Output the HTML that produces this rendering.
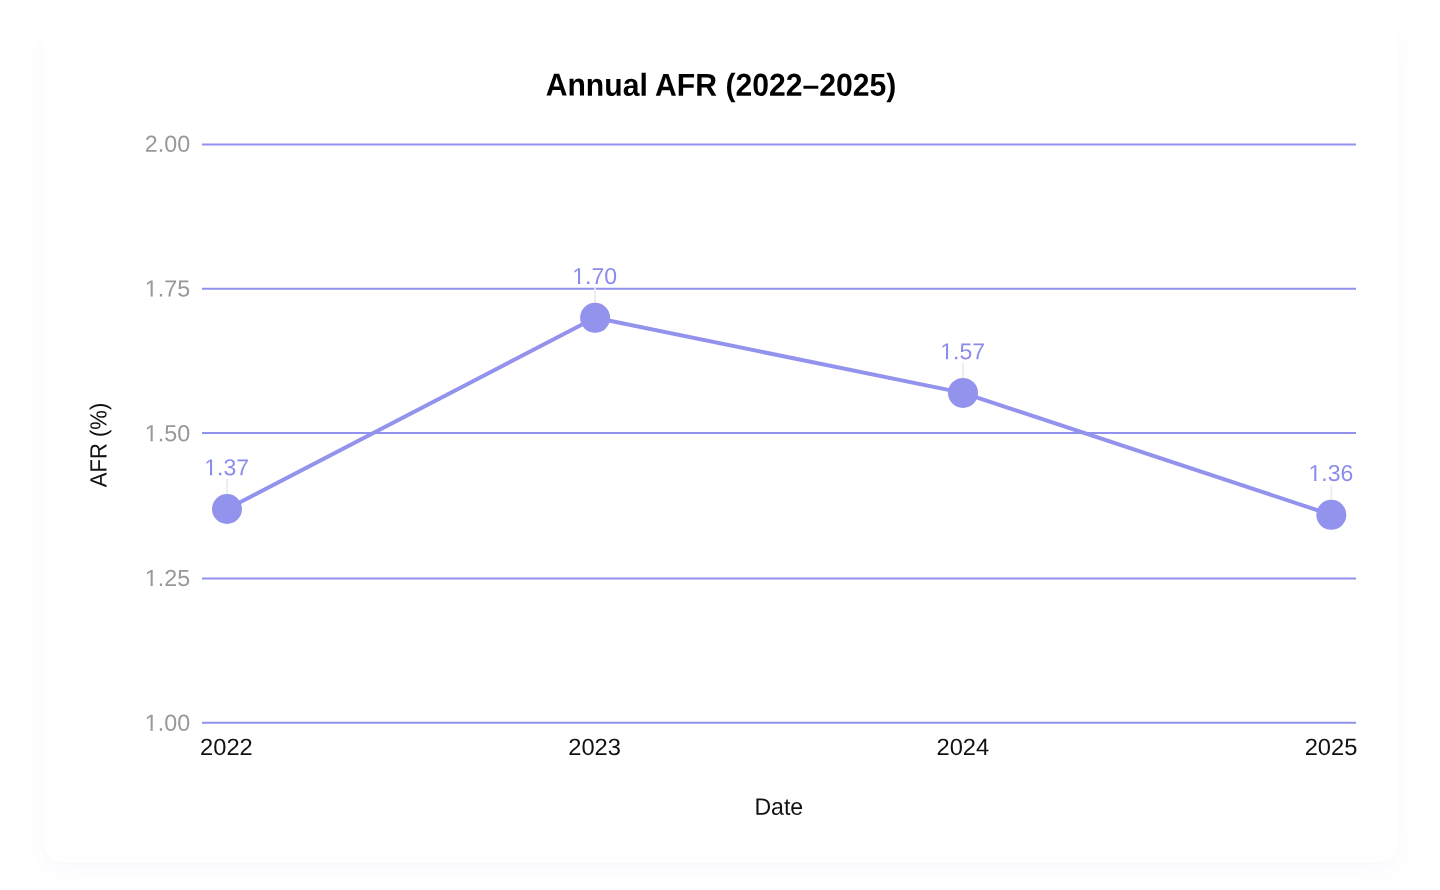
<!DOCTYPE html>
<html lang="en">
<head>
<meta charset="utf-8">
<title>Annual AFR (2022–2025)</title>
<style>
  html, body {
    margin: 0;
    padding: 0;
    width: 1440px;
    height: 890px;
    background: #ffffff;
    overflow: hidden;
    font-family: "Liberation Sans", sans-serif;
  }
  .card {
    position: absolute;
    left: 44px;
    top: 25px;
    width: 1353.5px;
    height: 837px;
    background: #ffffff;
    border-radius: 20px;
    box-shadow: 0 8px 20px rgba(100, 100, 230, 0.04);
  }
  svg.chart {
    position: absolute;
    left: 0;
    top: 0;
    width: 1440px;
    height: 890px;
    font-family: "Liberation Sans", sans-serif;
    will-change: transform;
  }
  .grid line { stroke: #9191ee; stroke-width: 2; }
  .ytick text { fill: #999999; font-size: 23.3px; text-anchor: end; }
  .xtick text { fill: #111111; font-size: 23.7px; text-anchor: middle; }
  .dlabel text { fill: #8b8bec; font-size: 23px; text-anchor: middle; }
  .stem line { stroke: #ececec; stroke-width: 1.8; }
  .series polyline { fill: none; stroke: #9393ee; stroke-width: 4; stroke-linejoin: round; stroke-linecap: round; }
  .series circle { fill: #9393ee; }
  .title { fill: #000000; font-size: 30.15px; font-weight: bold; text-anchor: middle; }
  .axis-title { fill: #111111; font-size: 23.1px; text-anchor: middle; }
</style>
</head>
<body>
<div class="card"></div>
<svg class="chart" viewBox="0 0 1440 890">
  <defs>
    <clipPath id="ycut" clipPathUnits="userSpaceOnUse">
      <rect x="-70" y="-30" width="90" height="27.45"/>
      <rect x="-39.62" y="-3" width="2.32" height="6"/>
      <rect x="-32" y="-3" width="50" height="12"/>
    </clipPath>
    <clipPath id="dcut" clipPathUnits="userSpaceOnUse">
      <rect x="-40" y="-30" width="80" height="27.45"/>
      <rect x="-16.72" y="-3" width="2.28" height="6"/>
      <rect x="-9.5" y="-3" width="50" height="12"/>
    </clipPath>
  </defs>
  <text class="title" transform="translate(721 95.7) rotate(0.03) scale(1 1.055)">Annual AFR (2022–2025)</text>

  <g class="grid">
    <line x1="202" x2="1356" y1="144.5" y2="144.5"/>
    <line x1="202" x2="1356" y1="288.8" y2="288.8"/>
    <line x1="202" x2="1356" y1="432.9" y2="432.9"/>
    <line x1="202" x2="1356" y1="578.5" y2="578.5"/>
    <line x1="202" x2="1356" y1="722.8" y2="722.8"/>
  </g>

  <g class="ytick">
    <text transform="translate(190.1 151.75) rotate(0.03)">2.00</text>
    <text clip-path="url(#ycut)" transform="translate(190.1 296.5) rotate(0.03)">1.75</text>
    <text clip-path="url(#ycut)" transform="translate(190.1 441.25) rotate(0.03)">1.50</text>
    <text clip-path="url(#ycut)" transform="translate(190.1 586.0) rotate(0.03)">1.25</text>
    <text clip-path="url(#ycut)" transform="translate(190.1 730.75) rotate(0.03)">1.00</text>
  </g>

  <g class="stem">
    <line x1="227" x2="227" y1="479" y2="496"/>
    <line x1="595.1" x2="595.1" y1="288" y2="305"/>
    <line x1="963" x2="963" y1="363" y2="380"/>
    <line x1="1331.3" x2="1331.3" y1="485" y2="502"/>
  </g>

  <g class="series">
    <polyline points="227,509 595.1,317.8 963,392.9 1331.3,514.8"/>
    <circle cx="227" cy="509" r="15"/>
    <circle cx="595.1" cy="317.8" r="15"/>
    <circle cx="963" cy="392.9" r="15"/>
    <circle cx="1331.3" cy="514.8" r="15"/>
  </g>

  <g class="dlabel">
    <text clip-path="url(#dcut)" transform="translate(226.6 475.3) rotate(0.03)">1.37</text>
    <text clip-path="url(#dcut)" transform="translate(594.7 284.1) rotate(0.03)">1.70</text>
    <text clip-path="url(#dcut)" transform="translate(962.6 359.2) rotate(0.03)">1.57</text>
    <text clip-path="url(#dcut)" transform="translate(1330.9 481.1) rotate(0.03)">1.36</text>
  </g>

  <g class="xtick">
    <text transform="translate(226.4 754.95) rotate(0.03) scale(1 0.99)">2022</text>
    <text transform="translate(594.6 754.95) rotate(0.03) scale(1 0.99)">2023</text>
    <text transform="translate(962.8 754.95) rotate(0.03) scale(1 0.99)">2024</text>
    <text transform="translate(1331 754.95) rotate(0.03) scale(1 0.99)">2025</text>
  </g>

  <text class="axis-title" style="font-size:23.1px" transform="translate(778.8 814.75) rotate(0.03) scale(1 1.03)">Date</text>
  <text class="axis-title" style="font-size:22.1px" transform="translate(106.5 445.0) rotate(-90.03) scale(1 1.06)">AFR (%)</text>
</svg>
</body>
</html>
